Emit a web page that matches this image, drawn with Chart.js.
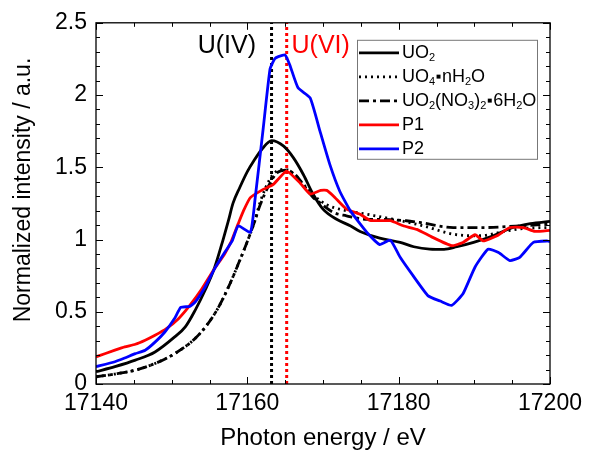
<!DOCTYPE html>
<html>
<head>
<meta charset="utf-8">
<script src="https://cdn.jsdelivr.net/npm/chart.js@4/dist/chart.umd.min.js"></script>
<style>
  html, body { margin: 0; padding: 0; background: #fff; }
</style>
</head>
<body>
<canvas id="chart" width="593" height="454"></canvas>
<script>
const FONT = '"Liberation Sans", Arial, sans-serif'

// UO2 reference (solid black)
const uo2E = [17140, 17142.5, 17145.2, 17147.8, 17150.4, 17151.8, 17153.1, 17154.4, 17155.7, 17156.8, 17157.5, 17158.1, 17159.0, 17160.0, 17160.8, 17162.0, 17163.2, 17164.8, 17166.1, 17167.4, 17168.7, 17170.0, 17171.8, 17173.6, 17174.9, 17177.5, 17180.2, 17182.0, 17184.1, 17186.0, 17187.7, 17189.9, 17192.5, 17195.1, 17197.4, 17200]
const uo2I = [0.085, 0.12, 0.165, 0.222, 0.326, 0.395, 0.51, 0.647, 0.81, 1.0, 1.13, 1.25, 1.36, 1.47, 1.54, 1.63, 1.685, 1.646, 1.565, 1.45, 1.313, 1.21, 1.14, 1.095, 1.056, 1.01, 0.98, 0.95, 0.934, 0.932, 0.95, 0.98, 1.026, 1.083, 1.11, 1.125]

// UO4·nH2O reference (dotted)
const uo4E = [17140, 17142.5, 17145.2, 17147.8, 17150.4, 17153.1, 17154.8, 17156.2, 17157.5, 17158.8, 17160.1, 17161.0, 17161.7, 17163.0, 17163.8, 17165.0, 17166.0, 17167.8, 17169.6, 17170.5, 17172.2, 17175.8, 17179.3, 17183.2, 17187.2, 17190.7, 17194.3, 17196.9, 17200]
const uo4I = [0.05, 0.069, 0.096, 0.142, 0.21, 0.315, 0.418, 0.532, 0.67, 0.83, 1.0, 1.13, 1.26, 1.42, 1.47, 1.485, 1.46, 1.36, 1.27, 1.24, 1.21, 1.175, 1.14, 1.095, 1.037, 1.026, 1.06, 1.078, 1.083]

// UO2(NO3)2·6H2O reference (dash-dot)
const nitE = [17140, 17142.5, 17145.2, 17147.8, 17150.4, 17153.1, 17154.8, 17156.2, 17157.5, 17158.8, 17160.1, 17161.0, 17161.7, 17163.0, 17163.9, 17165.2, 17166.3, 17167.4, 17168.7, 17169.2, 17171.4, 17173.1, 17175.8, 17177.5, 17181.0, 17182.8, 17187.2, 17191.6, 17196.0, 17200]
const nitI = [0.05, 0.069, 0.096, 0.142, 0.21, 0.315, 0.418, 0.532, 0.67, 0.83, 1.0, 1.13, 1.24, 1.39, 1.46, 1.48, 1.45, 1.38, 1.29, 1.27, 1.187, 1.164, 1.14, 1.14, 1.13, 1.118, 1.083, 1.083, 1.095, 1.106]

// P1 sample (red)
const p1E = [17140, 17142.5, 17143.8, 17145.2, 17146.5, 17147.8, 17149.3, 17150.9, 17152.4, 17154.0, 17155.5, 17157.0, 17157.9, 17158.8, 17159.5, 17160.4, 17162.1, 17163.4, 17165.2, 17167.0, 17168.3, 17169.7, 17170.5, 17171.4, 17173.1, 17174.9, 17176.2, 17178.9, 17180.6, 17182.4, 17184.3, 17187.0, 17188.5, 17190.1, 17191.2, 17193.0, 17194.7, 17196.5, 17198.0, 17200]
const p1I = [0.188, 0.234, 0.257, 0.275, 0.303, 0.337, 0.383, 0.452, 0.544, 0.659, 0.785, 0.9, 0.99, 1.11, 1.2, 1.29, 1.347, 1.38, 1.474, 1.39, 1.315, 1.34, 1.34, 1.3, 1.21, 1.175, 1.133, 1.13, 1.095, 1.07, 1.02, 0.957, 0.98, 1.033, 0.99, 1.026, 1.083, 1.083, 1.056, 1.064]

// P2 sample (blue)
const p2E = [17140, 17142.5, 17143.8, 17145.2, 17146.5, 17147.8, 17149.1, 17150.4, 17151.2, 17152.4, 17153.1, 17154.4, 17155.7, 17157.0, 17158.0, 17158.8, 17160.4, 17161.0, 17162.1, 17163.0, 17163.6, 17164.1, 17165.0, 17165.6, 17166.7, 17168.3, 17169.6, 17170.9, 17172.2, 17173.6, 17175.8, 17177.5, 17178.9, 17180.2, 17181.9, 17183.9, 17185.5, 17187.0, 17188.5, 17190.1, 17191.8, 17193.2, 17194.7, 17196.0, 17197.8, 17199.6, 17200]
const p2I = [0.12, 0.154, 0.18, 0.21, 0.234, 0.29, 0.36, 0.455, 0.53, 0.537, 0.567, 0.67, 0.8, 0.91, 0.99, 1.095, 1.05, 1.27, 1.77, 2.18, 2.25, 2.266, 2.277, 2.21, 2.05, 1.98, 1.75, 1.52, 1.336, 1.2, 1.05, 0.965, 0.996, 0.877, 0.75, 0.61, 0.574, 0.544, 0.624, 0.81, 0.933, 0.91, 0.854, 0.877, 0.98, 0.99, 0.985]

// edge markers
const edgeLabels = ["U(IV)", "U(VI)"]
const edgeE = [17163.2, 17165.2]
const edgeLabelE = [17157.3, 17169.7]
const edgeLabelI = 2.34
const edgeColors = ["#000000", "#ff0000"]

// axes
const xTicks = [17140, 17160, 17180, 17200]
const yTicks = [0, 0.5, 1, 1.5, 2, 2.5]
const yTitle = "Normalized intensity / a.u."

function pts(xs, ys) {
  return xs.map((x, i) => ({ x: x, y: ys[i] }))
}

const series = [
  { label: "UO₂", e: uo2E, v: uo2I, color: "#000000", dash: [], mode: "monotone" },
  { label: "UO₄•nH₂O", e: uo4E, v: uo4I, color: "#000000", dash: [2, 4], mode: "monotone" },
  { label: "UO₂(NO₃)₂•6H₂O", e: nitE, v: nitI, color: "#000000", dash: [10, 4, 3, 4], mode: "monotone" },
  { label: "P1", e: p1E, v: p1I, color: "#ff0000", dash: [], mode: "default" },
  { label: "P2", e: p2E, v: p2I, color: "#0000ff", dash: [], mode: "default" },
]

const datasets = series
  .slice()
  .reverse()
  .map((s) => ({
    label: s.label,
    data: pts(s.e, s.v),
    borderColor: s.color,
    borderDash: s.dash,
    borderWidth: 2.8,
    pointRadius: 0,
    tension: s.mode === "monotone" ? 0.4 : 0.15,
    cubicInterpolationMode: s.mode,
    fill: false,
  }))

edgeE.forEach((e, i) => {
  datasets.push({
    label: edgeLabels[i],
    data: [{ x: e, y: 0 }, { x: e, y: 2.5 }],
    borderColor: edgeColors[i],
    borderDash: [3, 3],
    borderWidth: 3,
    pointRadius: 0,
  })
})

// draw a string, turning unicode subscript digits into small lowered digits
const SUBS = "₀₁₂₃₄₅₆₇₈₉"
function drawRich(ctx, text, x, y, size) {
  for (const ch of text) {
    const k = SUBS.indexOf(ch)
    if (k >= 0) {
      ctx.font = Math.round(size * 0.62) + "px " + FONT
      ctx.fillText(String(k), x, y + size * 0.28)
      x += ctx.measureText(String(k)).width
    } else if (ch === "•") {
      ctx.fillRect(x + size * 0.08, y - size * 0.12, size * 0.22, size * 0.22)
      x += size * 0.38
    } else {
      ctx.font = size + "px " + FONT
      ctx.fillText(ch, x, y)
      x += ctx.measureText(ch).width
    }
  }
}

const framePlugin = {
  id: "frame",
  afterDatasetsDraw(chart) {
    const { ctx, chartArea: a, scales } = chart
    const x = scales.x
    const y = scales.y
    ctx.save()
    ctx.strokeStyle = "#000"
    ctx.lineWidth = 1.3
    ctx.strokeRect(a.left, a.top, a.width, a.height)
    ctx.lineWidth = 1
    ctx.beginPath()
    for (let v = 17140; v <= 17200; v += 5) {
      const px = Math.round(x.getPixelForValue(v)) + 0.5
      const len = (v - 17140) % 20 === 0 ? 7 : 4
      ctx.moveTo(px, a.bottom); ctx.lineTo(px, a.bottom - len)
      ctx.moveTo(px, a.top); ctx.lineTo(px, a.top + len)
    }
    for (let i = 0; i <= 25; i++) {
      const py = Math.round(y.getPixelForValue(i / 10)) + 0.5
      const len = i % 5 === 0 ? 7 : 4
      ctx.moveTo(a.left, py); ctx.lineTo(a.left + len, py)
      ctx.moveTo(a.right, py); ctx.lineTo(a.right - len, py)
    }
    ctx.stroke()

    // edge labels
    ctx.font = "25px " + FONT
    ctx.textAlign = "center"
    ctx.textBaseline = "middle"
    edgeLabels.forEach((t, i) => {
      ctx.fillStyle = edgeColors[i]
      ctx.fillText(t, x.getPixelForValue(edgeLabelE[i]), y.getPixelForValue(edgeLabelI))
    })

    // legend box
    const bx = a.right - 193, by = a.top + 17, bw = 180, bh = 119
    ctx.fillStyle = "#fff"
    ctx.fillRect(bx, by, bw, bh)
    ctx.strokeStyle = "#777"
    ctx.lineWidth = 1
    ctx.strokeRect(bx + 0.5, by + 0.5, bw, bh)
    ctx.textAlign = "left"
    ctx.textBaseline = "middle"
    series.forEach((s, i) => {
      const ry = by + 13 + i * 24
      ctx.strokeStyle = s.color
      ctx.lineWidth = 2.8
      ctx.setLineDash(s.dash)
      ctx.beginPath()
      ctx.moveTo(bx + 2, ry); ctx.lineTo(bx + 42, ry)
      ctx.stroke()
      ctx.setLineDash([])
      ctx.fillStyle = "#000"
      drawRich(ctx, s.label, bx + 45, ry, 18)
    })

    // y axis title
    ctx.save()
    ctx.translate(24, 190)
    ctx.rotate(-Math.PI / 2)
    ctx.font = "23px " + FONT
    ctx.textAlign = "center"
    ctx.fillStyle = "#000"
    ctx.fillText(yTitle, 0, 0)
    ctx.restore()
    ctx.restore()
  },
}

Chart.defaults.color = "#000"
Chart.defaults.font.family = FONT

new Chart(document.getElementById("chart"), {
  type: "line",
  data: { datasets: datasets },
  options: {
    responsive: false,
    animation: false,
    devicePixelRatio: 1,
    layout: { padding: { top: 21, right: 43, bottom: 0, left: 0 } },
    plugins: { legend: { display: false }, tooltip: { enabled: false } },
    scales: {
      x: {
        type: "linear",
        min: 17140,
        max: 17200,
        afterFit: (s) => { s.height = 70 },
        afterBuildTicks: (s) => { s.ticks = xTicks.map((v) => ({ value: v })) },
        grid: { display: false, drawTicks: false },
        border: { display: false },
        ticks: { font: { size: 23 }, padding: 6, maxRotation: 0, callback: (v) => String(v) },
        title: { display: true, text: "Photon energy / eV", font: { size: 24 }, padding: { top: 0, bottom: 1 } },
      },
      y: {
        min: 0,
        max: 2.5,
        afterFit: (s) => { s.width = 96 },
        afterBuildTicks: (s) => { s.ticks = yTicks.map((v) => ({ value: v })) },
        grid: { display: false, drawTicks: false },
        border: { display: false },
        ticks: { font: { size: 23 }, padding: 9, callback: (v) => String(v) },
      },
    },
  },
  plugins: [framePlugin],
})
</script>
</body>
</html>
